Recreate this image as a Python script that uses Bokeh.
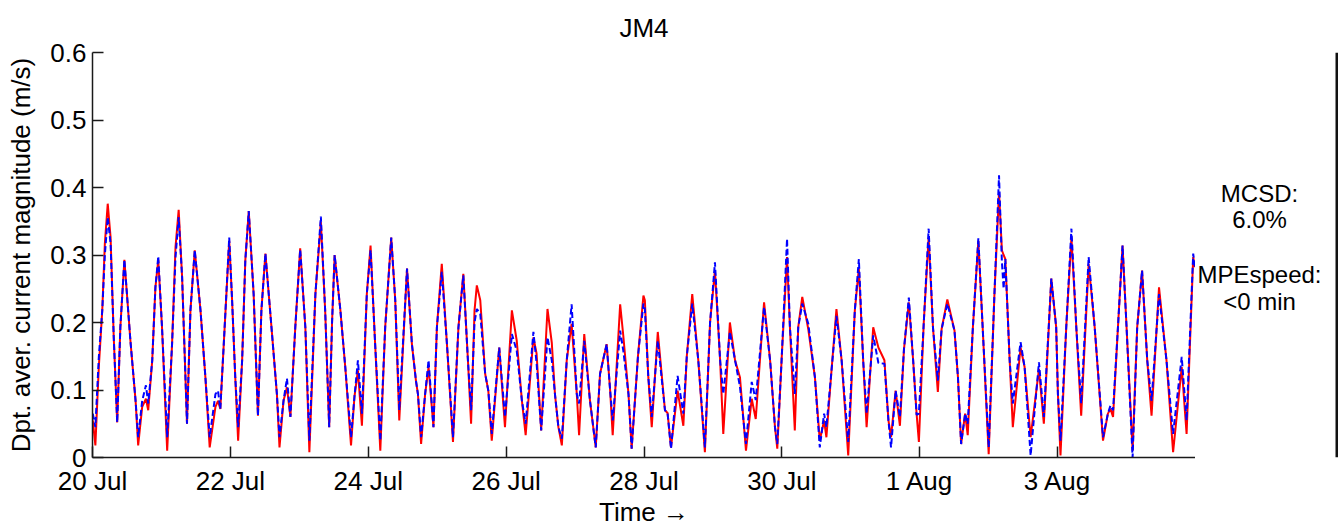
from bokeh.plotting import figure
from bokeh.models import Range1d, FixedTicker, CustomJSTickFormatter, Span
from bokeh.layouts import row
from bokeh.core.properties import value
from bokeh.embed import file_html
from bokeh.resources import INLINE

FONT = "Liberation Sans"

# ---- data: time in hours since 20 Jul 00:00, current magnitude (m/s) ----
hours = [
    0.1, 1.0, 2.2, 3.4, 4.3, 5.3, 6.3, 7.4, 8.6, 9.7, 11.1, 13.2, 15.0, 15.9, 17.3, 18.6, 19.4, 20.8, 21.9, 22.9,
    24.2, 26.0, 27.7, 28.9, 30.0, 31.2, 32.9, 34.1, 35.6, 37.6, 39.3, 40.8, 42.8, 43.7, 44.5, 45.7, 47.6,
    48.6, 49.7, 50.7, 52.1, 53.2, 54.4, 56.1, 57.6, 58.8, 60.2, 62.5, 64.2, 65.1, 66.5, 67.7, 68.9, 70.6,
    72.3, 74.1, 75.5, 77.6, 79.5, 81.0, 82.4, 83.4, 84.3, 86.3, 88.0, 90.0, 91.2, 92.4, 93.8, 95.5, 96.8,
    98.4, 100.2, 101.9, 104.0, 105.4, 106.8, 109.5, 111.2, 112.6, 113.3, 114.4, 115.8, 117.0, 118.7, 119.9,
    121.6, 123.4, 125.5, 127.4, 129.1, 130.7, 131.8, 133.0, 133.8, 135.0, 136.7, 137.8, 139.0, 141.6, 143.6, 146.0,
    147.7, 149.5, 150.8, 153.5, 154.6, 156.2, 158.4, 159.9, 161.0, 162.2, 163.4, 165.1, 166.8, 168.6, 169.4,
    171.2, 173.2, 175.2, 176.7, 179.0, 180.2, 181.1, 183.7, 184.8, 186.6, 187.7, 189.9, 191.8, 192.3, 193.5, 194.7,
    196.8, 199.3, 200.2, 201.4, 203.7, 205.7, 206.9, 208.8, 210.9, 213.2, 215.0, 216.7, 218.5, 219.6, 221.9,
    223.7, 225.4, 227.5, 229.5, 230.9, 233.8, 235.9, 237.6, 238.4, 239.9, 241.8,
    242.8, 244.5, 245.7, 247.1, 249.2, 251.5, 253.2, 254.7, 255.5, 257.3, 259.0, 260.8, 263.1, 265.4, 266.8,
    268.3, 269.5, 271.8, 273.6, 275.7, 277.1, 278.0, 279.6, 281.1, 282.5, 284.2, 285.7, 286.9, 287.7, 289.4, 291.1,
    292.6, 294.3, 295.6, 297.6, 300.1, 301.3, 302.4, 303.8, 304.7, 306.5, 308.4, 309.9, 312.0, 314.0, 315.6,
    316.6, 317.2, 317.8, 319.3, 320.4, 323.1, 324.5, 326.6, 329.5, 331.2, 333.8, 335.5, 336.1, 337.0, 339.0, 340.8,
    342.5, 344.2, 346.8, 348.9, 351.8, 353.5, 354.4, 355.3, 357.0, 358.6, 360.0, 362.1, 363.7, 365.4, 367.2,
    368.7, 371.3, 373.9, 376.2, 379.2, 380.9, 383.2, 383.8,
]

measured = [  # red, solid
    .055, .018, .134, .218, .317, .376, .326, .178, .052, .193, .293, .173, .084, .018, .075, .087, .070, .144, .252, .292,
    .193, .010, .168, .312, .367, .267, .050, .218, .307, .218, .119, .015, .075, .084, .072, .168, .321,
    .233, .119, .025, .144, .292, .365, .242, .062, .218, .302, .183, .094, .015, .084, .104, .060, .193,
    .310, .193, .008, .242, .349, .218, .045, .200, .300, .218, .134, .018, .090, .129, .047, .242, .314,
    .168, .010, .193, .326, .233, .055, .280, .168, .114, .094, .020, .094, .134, .045, .193,
    .287, .168, .023, .193, .272, .144, .050, .218, .255, .233, .124, .099, .025, .163, .045, .218,
    .173, .084, .033, .178, .154, .040, .220, .170, .094, .045, .018, .144, .198, .094, .033,
    .183, .084, .015, .124, .168, .100, .033, .227, .180, .094, .013, .150, .240, .233, .119, .045,
    .186, .070, .066, .015, .099, .047, .150, .242, .144, .008, .200, .277, .144, .035, .200,
    .144, .119, .010, .087, .057, .230, .144, .045, .013, .144, .297,
    .193, .040, .193, .238, .190, .119, .025, .055, .030, .130, .220, .144, .003, .218, .280,
    .144, .045, .193, .163, .144, .055, .030, .099, .047, .160, .230, .144, .065, .023, .200, .326,
    .193, .097, .190, .234, .188, .119, .020, .065, .033, .193, .321, .193, .005, .242, .393,
    .307, .300, .294, .144, .045, .163, .134, .030, .131, .050, .265, .193, .094, .003, .193, .326,
    .193, .062, .287, .193, .025, .065, .072, .060, .193, .314, .193, .010, .193, .277, .144,
    .062, .252, .144, .008, .134, .035, .297, .282,
]

modelled = [  # blue, dashed
    .065, .045, .149, .218, .300, .356, .317, .178, .052, .193, .293, .173, .084, .030, .084, .107, .080, .144, .252, .298,
    .193, .030, .168, .297, .356, .267, .050, .218, .307, .218, .119, .030, .094, .099, .072, .168, .326,
    .233, .119, .045, .144, .292, .365, .242, .062, .218, .302, .183, .094, .030, .084, .117, .060, .193,
    .308, .193, .025, .242, .357, .218, .045, .200, .300, .218, .134, .030, .090, .144, .065, .242, .307,
    .168, .025, .193, .326, .233, .070, .280, .168, .114, .094, .030, .094, .144, .045, .193,
    .275, .168, .030, .193, .270, .144, .070, .200, .220, .213, .124, .099, .035, .163, .060, .183,
    .158, .084, .050, .186, .140, .040, .178, .144, .094, .045, .028, .144, .227, .094, .080,
    .173, .084, .015, .124, .168, .100, .055, .188, .158, .094, .013, .150, .228, .220, .119, .060,
    .173, .070, .066, .013, .121, .065, .150, .228, .144, .015, .200, .289, .144, .094, .186,
    .144, .105, .020, .112, .085, .223, .144, .045, .020, .144, .324,
    .193, .094, .193, .228, .198, .119, .015, .065, .045, .130, .210, .144, .023, .218, .294,
    .144, .065, .181, .140, .139, .055, .015, .099, .060, .160, .237, .144, .063, .065, .200, .339,
    .193, .114, .190, .228, .188, .119, .020, .065, .050, .193, .325, .193, .015, .242, .418,
    .290, .250, .294, .144, .080, .171, .134, .003, .141, .060, .265, .193, .094, .025, .193, .339,
    .193, .080, .297, .193, .030, .065, .077, .070, .193, .314, .193, .000, .193, .277, .144,
    .084, .242, .144, .035, .149, .055, .302, .282,
]

tick_hours = [0, 48, 96, 144, 192, 240, 288, 336]
tick_labels = ["20 Jul", "22 Jul", "24 Jul", "26 Jul", "28 Jul", "30 Jul", "1 Aug", "3 Aug"]
y_ticks = [0, 0.1, 0.2, 0.3, 0.4, 0.5, 0.6]
stats_lines = ["MCSD:", "6.0%", "MPEspeed:", "<0 min"]

# ---------------- main plot ----------------
p = figure(width=1195, height=529, output_backend="svg", toolbar_location=None,
           x_range=Range1d(0, 384), y_range=Range1d(0, 0.6),
           min_border_left=92, min_border_right=0, min_border_top=52, min_border_bottom=72,
           title="JM4")
p.title.align = "center"
p.title.offset = -2
p.title.text_font = FONT
p.title.text_font_size = "26px"
p.title.text_font_style = "normal"
p.title.text_color = "black"
p.title.standoff = 19

p.outline_line_color = None
p.xgrid.visible = False
p.ygrid.visible = False

for ax in (p.xaxis[0], p.yaxis[0]):
    ax.axis_line_color = "#1a1a1a"
    ax.axis_line_width = 1.5
    ax.major_tick_line_color = "#1a1a1a"
    ax.major_tick_line_width = 1.5
    ax.major_tick_in = 11
    ax.major_tick_out = 0
    ax.minor_tick_line_color = None
    ax.major_label_text_font = FONT
    ax.major_label_text_font_size = "26px"
    ax.major_label_text_color = "black"
    ax.axis_label_text_font = FONT
    ax.axis_label_text_font_size = "26px"
    ax.axis_label_text_font_style = "normal"
    ax.axis_label_text_color = "black"

p.xaxis.ticker = FixedTicker(ticks=tick_hours)
p.xaxis.major_label_overrides = dict(zip(tick_hours, tick_labels))
p.xaxis.major_label_standoff = 8
p.xaxis.axis_label = "Time \u2192"
p.xaxis.axis_label_standoff = -2

p.yaxis.ticker = FixedTicker(ticks=y_ticks)
p.yaxis.formatter = CustomJSTickFormatter(code="return tick == 0 ? '0' : tick.toFixed(1);")
p.yaxis.major_label_standoff = 6
p.yaxis.axis_label = "Dpt. aver. current magnitude (m/s)"
p.yaxis.axis_label_standoff = 11

p.line(hours, measured, line_color="red", line_width=2)
p.line(hours, modelled, line_color="blue", line_width=2, line_dash="6 3")

# ---------------- statistics panel on the right (shares the y scale) ----------------
s = figure(width=143, height=529, output_backend="svg", toolbar_location=None,
           x_range=Range1d(0, 143), y_range=p.y_range,
           min_border_left=0, min_border_right=0, min_border_top=52, min_border_bottom=72,
           x_axis_type=None, y_axis_type=None)
s.outline_line_color = None
s.xgrid.visible = False
s.ygrid.visible = False
s.text(x=[64, 64, 64, 64], y=[0.391, 0.352, 0.271, 0.231], text=stats_lines,
       text_align="center", text_baseline="alphabetic",
       text_font=value(FONT), text_font_size="24px", text_color="black")
# dark vertical edge of the original picture
s.add_layout(Span(location=141.5, dimension="height", line_color="#111111", line_width=3))

layout = row(p, s)

open("out.html", "w").write(file_html(layout, INLINE))
